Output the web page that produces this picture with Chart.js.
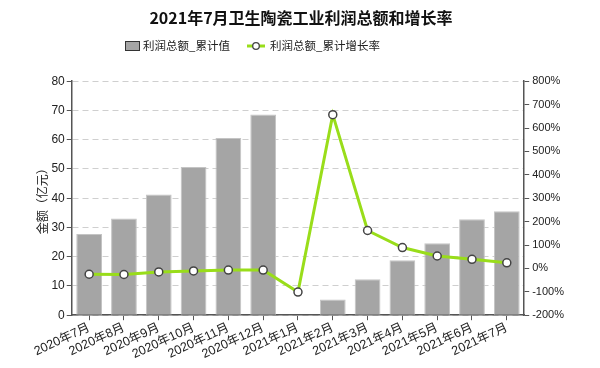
<!DOCTYPE html>
<html>
<head>
<meta charset="utf-8">
<script src="https://cdn.jsdelivr.net/npm/chart.js@4.4.0/dist/chart.umd.min.js"></script>
<style>
  html, body { margin: 0; padding: 0; background: #fff; }
  #wrap { width: 600px; height: 368px; }
</style>
</head>
<body>
<div id="wrap"><canvas id="chart" width="600" height="368"></canvas></div>
<script>
// months on the x axis
const months = ['2020年7月', '2020年8月', '2020年9月', '2020年10月', '2020年11月', '2020年12月',
  '2021年1月', '2021年2月', '2021年3月', '2021年4月', '2021年5月', '2021年6月', '2021年7月'];
// cumulative profit, 亿元 (no value for Jan 2021)
const profitTotal = [27.8, 33.1, 41.3, 50.7, 60.6, 68.6, null, 5.4, 12.3, 18.8, 24.6, 32.8, 35.5];
// cumulative growth rate, %
const growthRate = [-25, -26, -15, -11, -7, -7, -101, 657, 162, 89, 53, 39, 24];

const leftTicks = [0, 10, 20, 30, 40, 50, 60, 70, 80];
const rightTicks = [-200, -100, 0, 100, 200, 300, 400, 500, 600, 700, 800];

const barColor = '#a5a5a5';
const lineColor = '#99dd1a';
const axisColor = '#555';
const cjkFont = '"Noto Sans CJK SC", "Noto Sans", sans-serif';
const numFont = '"Liberation Sans", "Noto Sans CJK SC", sans-serif';

// legend drawn by hand so it can sit where the reference has it
const legendPlugin = {
  id: 'handLegend',
  afterDraw(chart) {
    const ctx = chart.ctx;
    const ds = chart.data.datasets;
    const y = 46;
    ctx.save();
    ctx.font = '11.5px ' + cjkFont;
    ctx.textBaseline = 'middle';

    // bar item
    ctx.fillStyle = barColor;
    ctx.fillRect(125.5, 41.5, 14, 9);
    ctx.strokeStyle = '#333';
    ctx.lineWidth = 1;
    ctx.strokeRect(125.5, 41.5, 14, 9);
    ctx.fillStyle = '#222';
    ctx.fillText(ds[0].label, 143, y);

    // line item
    ctx.strokeStyle = lineColor;
    ctx.lineWidth = 3;
    ctx.beginPath(); ctx.moveTo(247, y); ctx.lineTo(265, y); ctx.stroke();
    ctx.fillStyle = '#fff';
    ctx.strokeStyle = '#444';
    ctx.lineWidth = 1.3;
    ctx.beginPath(); ctx.arc(256, y, 3.3, 0, Math.PI * 2); ctx.fill(); ctx.stroke();
    ctx.fillStyle = '#222';
    ctx.fillText(ds[1].label, 270, y);
    ctx.restore();
  }
};

new Chart(document.getElementById('chart'), {
  data: {
    labels: months,
    datasets: [
      {
        type: 'bar',
        label: '利润总额_累计值',
        data: profitTotal,
        backgroundColor: barColor,
        borderColor: '#c4c4c4',
        borderWidth: 1,
        barPercentage: 0.74,
        categoryPercentage: 1,
        yAxisID: 'y',
        order: 2
      },
      {
        type: 'line',
        label: '利润总额_累计增长率',
        data: growthRate,
        borderColor: lineColor,
        borderWidth: 3,
        pointRadius: 4,
        pointBackgroundColor: '#fff',
        pointBorderColor: '#444',
        pointBorderWidth: 1.5,
        tension: 0,
        yAxisID: 'y1',
        order: 1
      }
    ]
  },
  options: {
    responsive: false,
    animation: false,
    layout: { padding: { left: 35, right: 33, top: 0, bottom: 6 } },
    plugins: {
      title: {
        display: true,
        text: '2021年7月卫生陶瓷工业利润总额和增长率',
        color: '#111',
        font: { family: cjkFont, size: 16, weight: 'bold' },
        padding: { top: 8, bottom: 54 }
      },
      legend: { display: false },
      tooltip: { enabled: false }
    },
    scales: {
      x: {
        offset: true,
        grid: { offset: false, drawOnChartArea: false, drawTicks: true, tickLength: 5, color: axisColor },
        border: { color: axisColor, width: 1.5 },
        ticks: {
          color: '#222',
          font: { family: numFont, size: 12.5 },
          minRotation: 25,
          maxRotation: 25,
          autoSkip: false,
          padding: 0
        }
      },
      y: {
        position: 'left',
        min: 0,
        max: 80,
        afterBuildTicks: (axis) => { axis.ticks = leftTicks.map(v => ({ value: v })); },
        title: {
          display: true,
          text: '金额（亿元）',
          color: '#222',
          font: { family: cjkFont, size: 12 },
          padding: { top: 0, bottom: 0 }
        },
        grid: {
          color: '#cfcfcf',
          lineWidth: 1,
          tickColor: axisColor,
          tickLength: 5,
          tickBorderDash: [0, 0]
        },
        border: { color: axisColor, width: 1.5, dash: [6, 4] },
        ticks: { color: '#222', font: { family: numFont, size: 12 }, padding: 2 }
      },
      y1: {
        position: 'right',
        min: -200,
        max: 800,
        afterBuildTicks: (axis) => { axis.ticks = rightTicks.map(v => ({ value: v })); },
        grid: { drawOnChartArea: false, color: axisColor, tickLength: 5 },
        border: { color: axisColor, width: 1.5 },
        ticks: {
          color: '#222',
          font: { family: numFont, size: 11 },
          padding: 3,
          callback: (v) => v + '%'
        }
      }
    }
  },
  plugins: [legendPlugin]
});
</script>
</body>
</html>
